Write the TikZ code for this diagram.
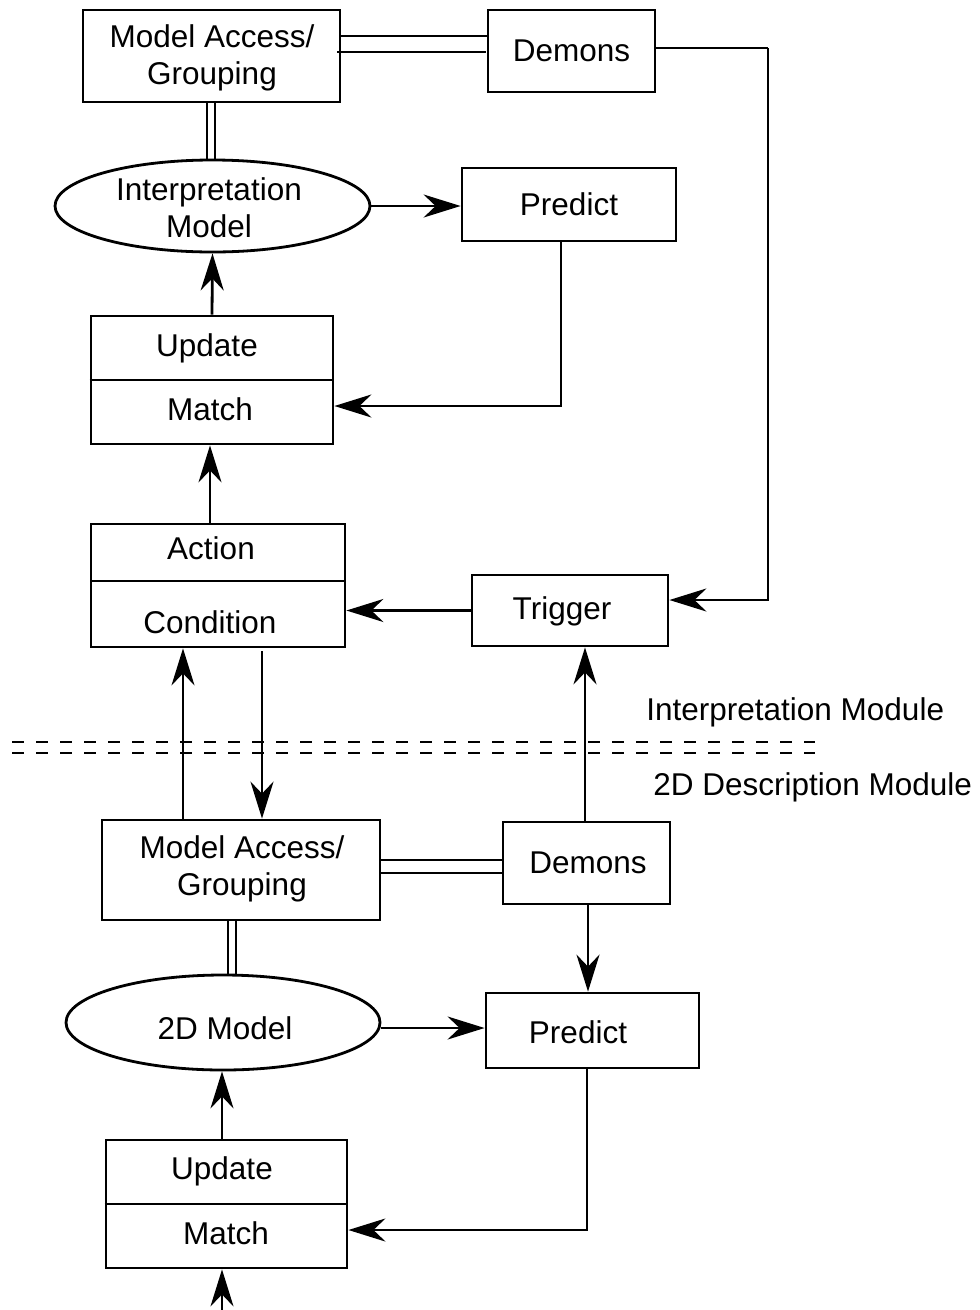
\documentclass[tikz,border=0pt]{standalone}
\usepackage{fontspec}
\setmainfont{Liberation Sans}
\usetikzlibrary{arrows.meta,shapes.geometric,calc}
\begin{document}
\begin{tikzpicture}[x=1pt,y=-1pt,
  line width=2.8pt,
  every node/.style={font=\fontsize{31.5}{37}\selectfont},
  box/.style={draw,rectangle,inner sep=0pt},
  oval/.style={draw,ellipse,inner sep=0pt},
  lbl/.style={inner sep=0pt,align=center},
  arr/.style={-{Stealth[length=37pt,width=23pt,inset=12pt]}},
  dl/.style={line width=2.6pt,dash pattern=on 12pt off 12pt}]
\useasboundingbox (0,0) rectangle (980,1310);
% ---- top module ----
\node[box,minimum width=257pt,minimum height=92pt] (ma1) at (211.5,56) {};
\node[lbl] (ma1t) at (212,58) {Model Access/\\Grouping};
\node[box,minimum width=167pt,minimum height=82pt] (dem1) at (571.5,51) {};
\node[lbl] (dem1t) at (dem1) {Demons};
\node[oval,minimum width=315pt,minimum height=92pt] (im) at (212.5,206) {};
\node[lbl] (imt) at (209,208) {Interpretation\\Model};
\node[box,minimum width=214pt,minimum height=73pt] (pr1) at (569,204.5) {};
\node[lbl] (pr1t) at (pr1) {Predict};
\node[box,minimum width=242pt,minimum height=128pt] (um1) at (212,380) {};
\draw (um1.west) -- (um1.east);
\node[lbl] (um1u) at (207,348) {Update};
\node[lbl] (um1m) at (210,409) {Match};
\node[box,minimum width=254pt,minimum height=123pt] (ac) at (218,585.5) {};
\coordinate (acl) at (91,581);
\draw (acl) -- (ac.east |- acl);
\node[lbl] (act) at (211,548) {Action};
\node[lbl] (cond) at (210,622) {Condition};
\node[box,minimum width=196pt,minimum height=71pt] (tr) at (570,610.5) {};
\node[lbl] (trt) at (562,611) {Trigger};
% ---- divider ----
\coordinate (d1l) at (12,742); \coordinate (d1r) at (815,742);
\coordinate (d2l) at (12,753); \coordinate (d2r) at (815,753);
\draw[dl] (d1l) -- (d1r);
\draw[dl] (d2l) -- (d2r);
\node[lbl,anchor=west] (imod) at (645,712) {Interpretation Module};
\node[lbl,anchor=west] (dmod) at (652,787) {2D Description Module};
% ---- bottom module ----
\node[box,minimum width=278pt,minimum height=100pt] (ma2) at (241,870) {};
\node[lbl] (ma2t) at (242,869) {Model Access/\\Grouping};
\node[box,minimum width=167pt,minimum height=82pt] (dem2) at (586.5,863) {};
\node[lbl] (dem2t) at (588,863) {Demons};
\node[oval,minimum width=314pt,minimum height=95pt] (dm) at (223,1022.5) {};
\node[lbl] (dmt) at (225,1028) {2D Model};
\node[box,minimum width=213pt,minimum height=75pt] (pr2) at (592.5,1030.5) {};
\node[lbl] (pr2t) at (578,1032) {Predict};
\node[box,minimum width=241pt,minimum height=128pt] (um2) at (226.5,1204) {};
\draw (um2.west) -- (um2.east);
\node[lbl] (um2u) at (222,1171) {Update};
\node[lbl] (um2m) at (226,1233) {Match};
% ---- connectors top ----
\coordinate (h1a) at (340,36); \coordinate (h1b) at (488,36);
\coordinate (h2a) at (337,52); \coordinate (h2b) at (486,52);
\draw (h1a) -- (h1b);
\draw (h2a) -- (h2b);
\coordinate (v1a) at (207,102); \coordinate (v1b) at (207,160);
\coordinate (v2a) at (215,102); \coordinate (v2b) at (215,160);
\draw (v1a) -- (v1b);
\draw (v2a) -- (v2b);
\coordinate (cr) at (768,600);
\coordinate (ct) at (768,48);
\draw (ct -| dem1.east) -- (ct);
\draw[arr] (ct) -- (cr) -- (tr.east |- cr);
\draw[arr] (im.east) -- (pr1.west |- im.east);
\draw[arr] (um1.north) -- (im.south);
\coordinate (cp1) at (561,406);
\draw[arr] (pr1.south -| cp1) -- (cp1) -- (um1.east |- cp1);
\coordinate (xa) at (210,0);
\draw[arr] (ac.north -| xa) -- (um1.south -| xa);
\draw[arr] (tr.west) -- (ac.east |- tr.west);
\coordinate (xt) at (585,0);
\draw[arr] (dem2.north -| xt) -- (tr.south -| xt);
\coordinate (xu) at (183,0);
\draw[arr] (ma2.north -| xu) -- (ac.south -| xu);
\coordinate (xd) at (262,651);
\draw[arr] (xd) -- (ma2.north -| xd);
% ---- connectors bottom ----
\coordinate (h3a) at (380,860); \coordinate (h3b) at (503,860);
\coordinate (h4a) at (380,873); \coordinate (h4b) at (503,873);
\draw (h3a) -- (h3b);
\draw (h4a) -- (h4b);
\coordinate (v3a) at (228,920); \coordinate (v3b) at (228,976);
\coordinate (v4a) at (236,920); \coordinate (v4b) at (236,976);
\draw (v3a) -- (v3b);
\draw (v4a) -- (v4b);
\coordinate (xp) at (588,0);
\draw[arr] (dem2.south -| xp) -- (pr2.north -| xp);
\coordinate (ye) at (0,1028);
\draw[arr] (dm.east |- ye) -- (pr2.west |- ye);
\coordinate (xm) at (222,0);
\draw[arr] (um2.north -| xm) -- (dm.south -| xm);
\coordinate (cp2) at (587,1230);
\draw[arr] (pr2.south -| cp2) -- (cp2) -- (um2.east |- cp2);
\coordinate (bot) at (222,1310);
\draw[arr] (bot) -- (um2.south -| bot);
\end{tikzpicture}
\end{document}
